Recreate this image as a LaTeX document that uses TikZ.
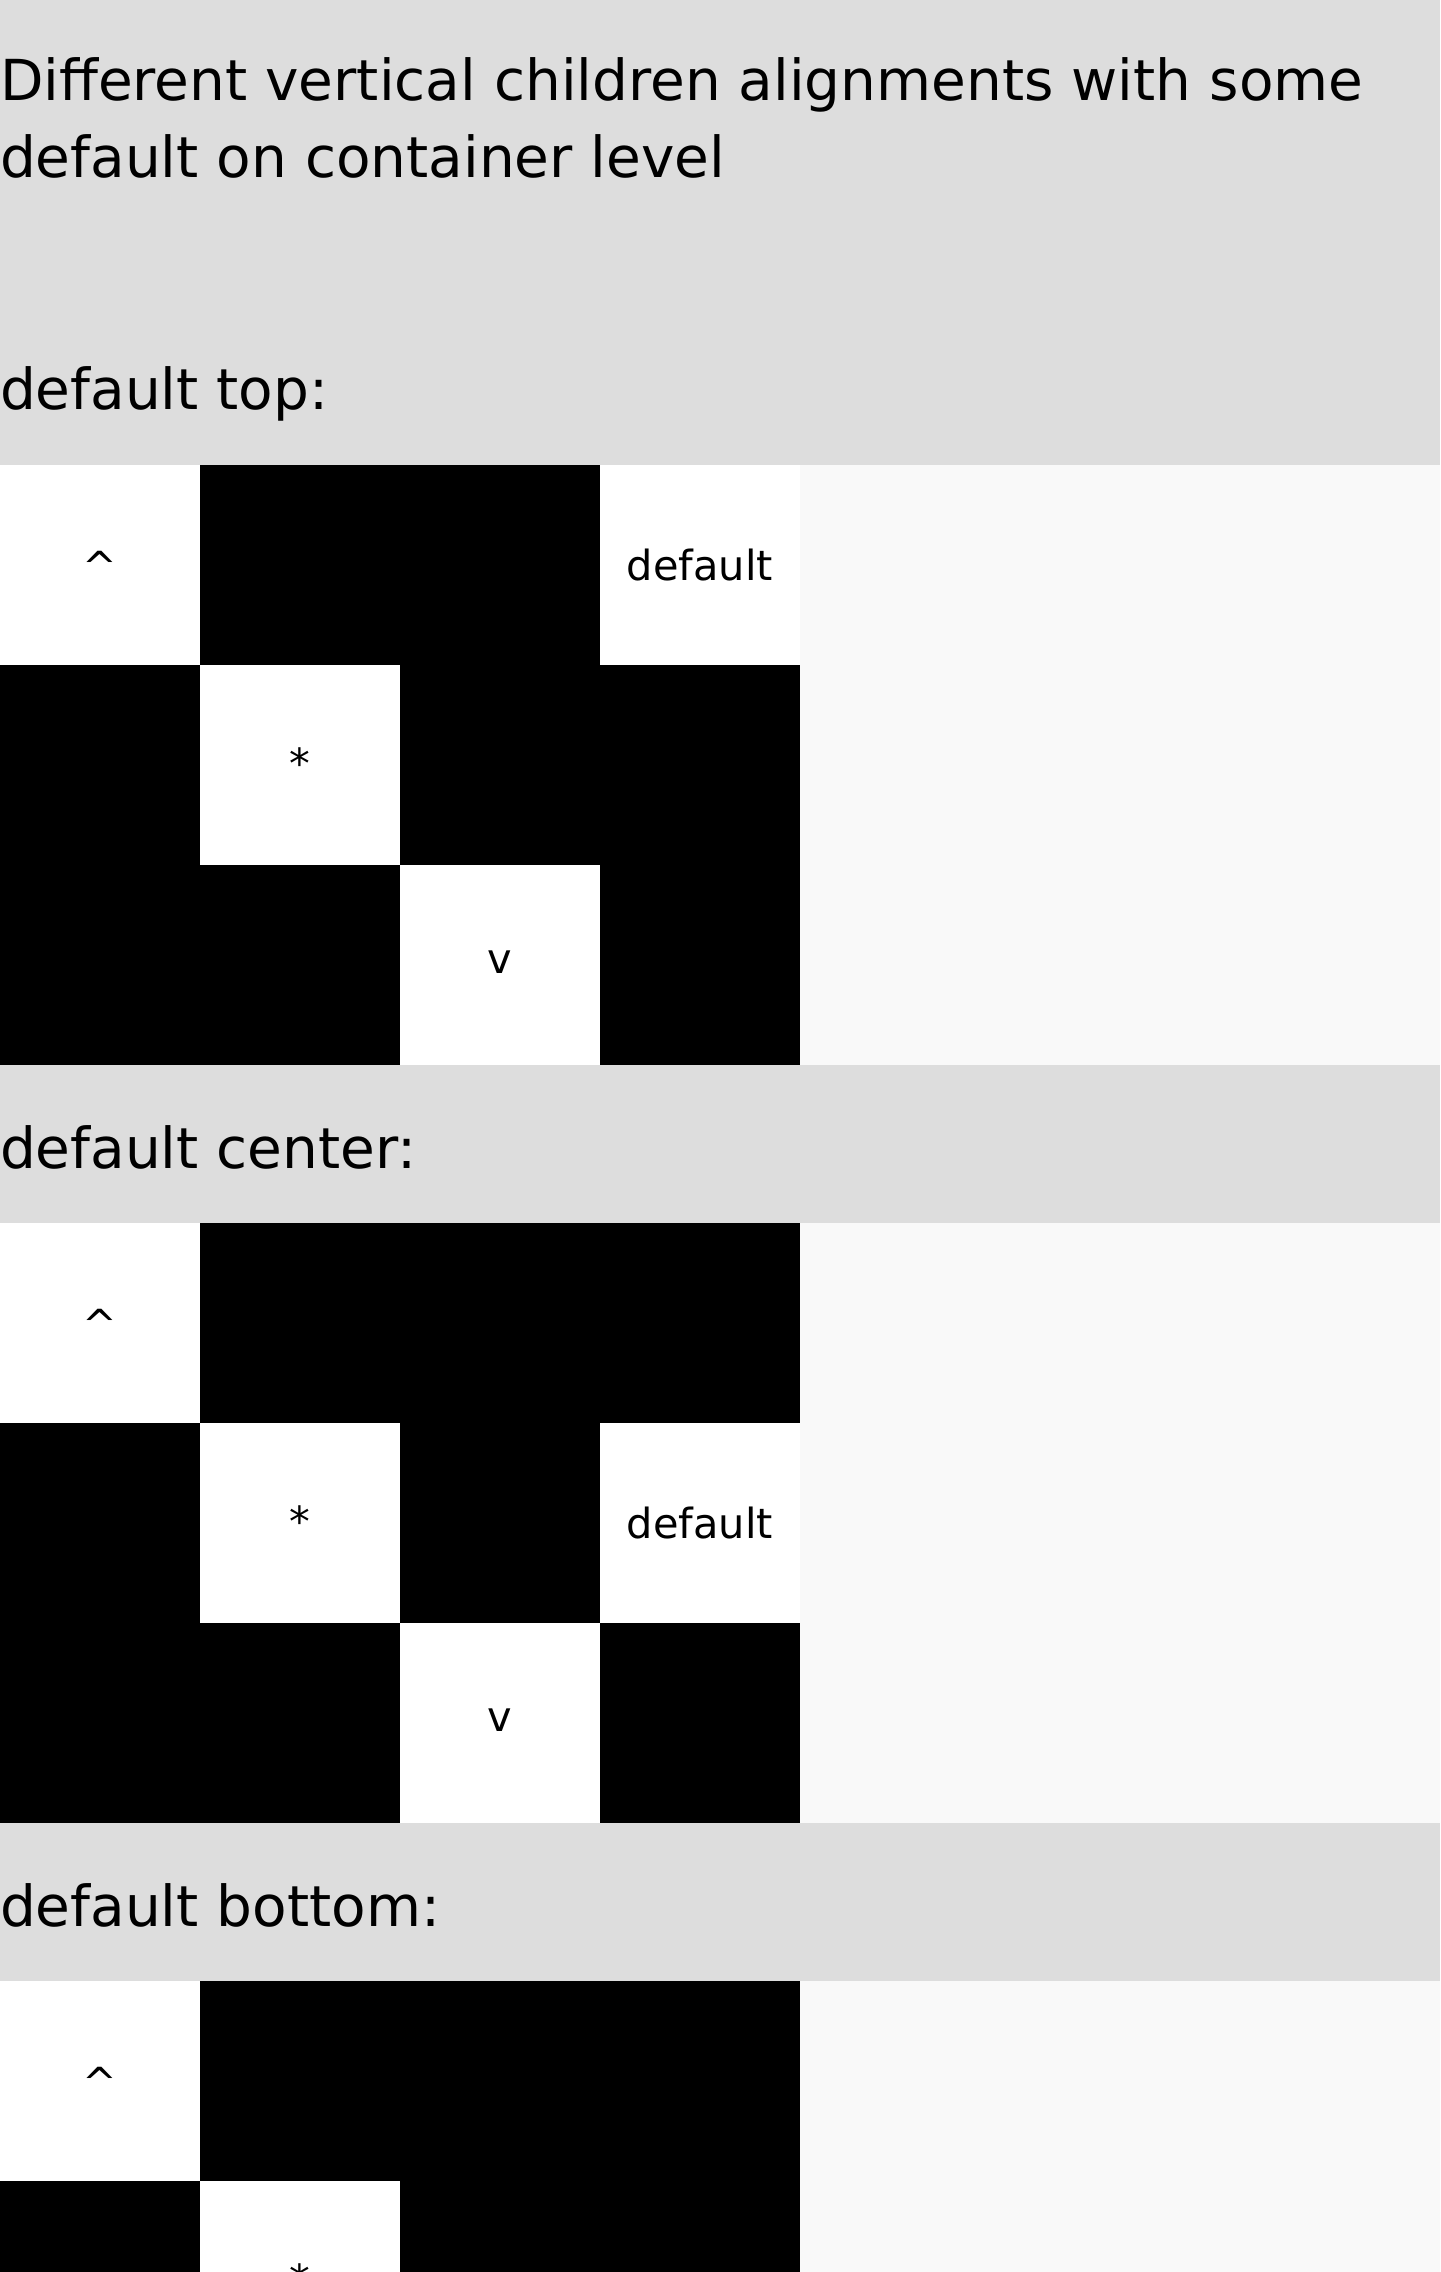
\documentclass[tikz,border=0pt]{standalone}
\usepackage{fontspec}
\setmainfont{DejaVu Sans}
\definecolor{band}{HTML}{DDDDDD}
\definecolor{pane}{HTML}{F9F9F9}
\begin{document}
\begin{tikzpicture}[x=1pt,y=-1pt,
  bigtxt/.style={inner sep=0pt, outer sep=0pt, anchor=base west, font=\fontsize{56.5}{68}\selectfont},
  celltxt/.style={inner sep=0pt, outer sep=0pt, anchor=base, font=\fontsize{41.5}{50}\selectfont},
  cellbox/.style={minimum width=200pt, minimum height=200pt, inner sep=0pt, outer sep=0pt},
  blk/.style={cellbox, fill=black},
  wht/.style={cellbox, fill=white}]
\useasboundingbox (0,0) rectangle (1440,2272);
\clip (0,0) rectangle (1440,2272);
% bands and panes
\fill[band] (0,0) rectangle (1440,465);
\fill[pane] (800,465) rectangle (1440,1065);
\fill[band] (0,1065) rectangle (1440,1223);
\fill[pane] (800,1223) rectangle (1440,1823);
\fill[band] (0,1823) rectangle (1440,1981);
\fill[pane] (800,1981) rectangle (1440,2272);
% titles
\node[bigtxt] (title1) at (0,101) {Different vertical children alignments with some};
\node[bigtxt] (title2) at (0,177) {default on container level};
\node[bigtxt] (h1) at (0,409) {default top:};
\node[bigtxt] (h2) at (0,1168) {default center:};
\node[bigtxt] (h3) at (0,1926) {default bottom:};
% section 1: default top
\node[wht] (a00) at (100,565) {};
\node[blk] (a01) at (300,565) {};
\node[blk] (a02) at (500,565) {};
\node[wht] (a03) at (700,565) {};
\node[blk] (a10) at (100,765) {};
\node[wht] (a11) at (300,765) {};
\node[blk] (a12) at (500,765) {};
\node[blk] (a13) at (700,765) {};
\node[blk] (a20) at (100,965) {};
\node[blk] (a21) at (300,965) {};
\node[wht] (a22) at (500,965) {};
\node[blk] (a23) at (700,965) {};
\node[celltxt] (la00) at (100,581) {\textasciicircum};
\node[celltxt] (la03) at (700,580) {default};
\node[celltxt] (la11) at (300,778) {*};
\node[celltxt] (la22) at (500,973) {v};
% section 2: default center
\node[wht] (b00) at (100,1323) {};
\node[blk] (b01) at (300,1323) {};
\node[blk] (b02) at (500,1323) {};
\node[blk] (b03) at (700,1323) {};
\node[blk] (b10) at (100,1523) {};
\node[wht] (b11) at (300,1523) {};
\node[blk] (b12) at (500,1523) {};
\node[wht] (b13) at (700,1523) {};
\node[blk] (b20) at (100,1723) {};
\node[blk] (b21) at (300,1723) {};
\node[wht] (b22) at (500,1723) {};
\node[blk] (b23) at (700,1723) {};
\node[celltxt] (lb00) at (100,1339) {\textasciicircum};
\node[celltxt] (lb11) at (300,1536) {*};
\node[celltxt] (lb13) at (700,1538) {default};
\node[celltxt] (lb22) at (500,1731) {v};
% section 3: default bottom
\node[wht] (c00) at (100,2081) {};
\node[blk] (c01) at (300,2081) {};
\node[blk] (c02) at (500,2081) {};
\node[blk] (c03) at (700,2081) {};
\node[blk] (c10) at (100,2281) {};
\node[wht] (c11) at (300,2281) {};
\node[blk] (c12) at (500,2281) {};
\node[blk] (c13) at (700,2281) {};
\node[celltxt] (lc00) at (100,2097) {\textasciicircum};
\node[celltxt] (lc11) at (300,2294) {*};
\end{tikzpicture}
\end{document}
